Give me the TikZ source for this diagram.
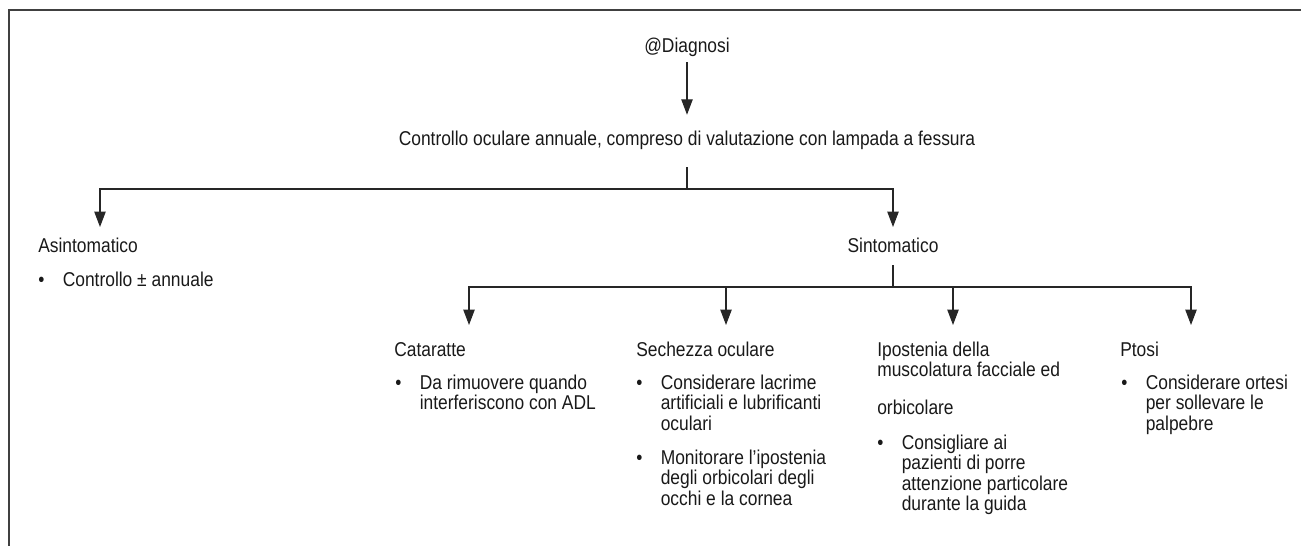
\documentclass[tikz,border=0pt]{standalone}
\usepackage{fontspec}
\setmainfont{Liberation Sans}[FakeStretch=0.87]
\usetikzlibrary{arrows.meta}
\newcommand{\righe}[1]{\begin{tabular}[t]{@{}l@{}}#1\end{tabular}}
\newcommand{\punto}[1]{\makebox[18.4pt][l]{\textbullet}\righe{#1}}

\begin{document}
\begin{tikzpicture}[x=0.75pt,y=-0.75pt,
    testo/.style={inner sep=0pt,text=black!90,font=\fontsize{15}{15.4}\selectfont},
    riga/.style={testo,text height=11pt,text depth=3pt},
    linea/.style={draw=black!85,line width=0.8pt},
    freccia/.style={linea,-{Triangle[length=11.5pt,width=8.5pt]}}]
  \useasboundingbox (0,0) rectangle (1301,546);
  \draw[black!75,line width=1.5pt] (1301,9.5) -- (8.8,9.5) -- (8.8,546);

  \node[riga,anchor=base] (diagnosi) at (687,52) {@Diagnosi};
  \node[riga,anchor=base] (controllo) at (687,145) {Controllo oculare annuale, compreso di valutazione con lampada a fessura};
  \draw[freccia] ([yshift=-4.5pt]diagnosi.south) -- ([yshift=11.5pt]controllo.north);

  \coordinate (bivio1) at (687,189);
  \coordinate (asinto-in) at (100,227);
  \coordinate (sinto-in) at (893,227);
  \draw[linea] ([yshift=-13.5pt]controllo.south) -- (bivio1);
  \draw[freccia] (bivio1) -| (asinto-in);
  \draw[freccia] (bivio1) -| (sinto-in);

  \node[riga,anchor=base west] (asinto) at (38,252) {Asintomatico};
  \node[testo,anchor=base west] (asinto1) at (38,286) {\punto{Controllo ± annuale}};
  \node[riga,anchor=base] (sinto) at (893,252) {Sintomatico};

  \coordinate (bivio2) at (893,287);
  \coordinate (cataratte-in) at (469,325);
  \coordinate (secchezza-in) at (726,325);
  \coordinate (ipostenia-in) at (953,325);
  \coordinate (ptosi-in) at (1191,325);
  \draw[linea] ([yshift=-6.75pt]sinto.south) -- (bivio2);
  \draw[freccia] (bivio2) -| (cataratte-in);
  \draw[freccia] (bivio2) -| (secchezza-in);
  \draw[freccia] (bivio2) -| (ipostenia-in);
  \draw[freccia] (bivio2) -| (ptosi-in);

  \node[testo,anchor=base west] (cataratte) at (394,356) {Cataratte};
  \node[testo,anchor=base west] (cataratte1) at (395,389) {\punto{Da rimuovere quando\\interferiscono con ADL}};

  \node[testo,anchor=base west] (secchezza) at (636,356) {Sechezza oculare};
  \node[testo,anchor=base west] (secchezza1) at (636,389) {\punto{Considerare lacrime\\artificiali e lubrificanti\\oculari}};
  \node[testo,anchor=base west] (secchezza2) at (636,464) {\punto{Monitorare l’ipostenia\\degli orbicolari degli\\occhi e la cornea}};

  \node[testo,anchor=base west] (ipostenia) at (877,356) {\righe{Ipostenia della\\muscolatura facciale ed\\[12.6pt]orbicolare}};
  \node[testo,anchor=base west] (ipostenia1) at (877,449) {\punto{Consigliare ai\\pazienti di porre\\attenzione particolare\\durante la guida}};

  \node[testo,anchor=base west] (ptosi) at (1120,356) {Ptosi};
  \node[testo,anchor=base west] (ptosi1) at (1121,389) {\punto{Considerare ortesi\\per sollevare le\\palpebre}};
\end{tikzpicture}
\end{document}
